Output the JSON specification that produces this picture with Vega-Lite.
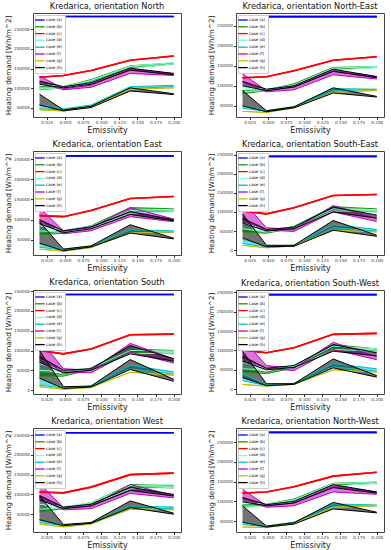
{
"$schema": "https://vega.github.io/schema/vega-lite/v6.json",
"padding": {"left": 3, "top": 1, "right": 2, "bottom": 0},
"datasets": {"d": [
{"o":"N","c":"a","k":0,"x":0.015,"lo":282000,"hi":282000},{"o":"N","c":"a","k":0,"x":0.048,"lo":282000,"hi":282000},{"o":"N","c":"a","k":0,"x":0.086,"lo":282000,"hi":282000},{"o":"N","c":"a","k":0,"x":0.14,"lo":282000,"hi":282000},{"o":"N","c":"a","k":0,"x":0.2,"lo":282000,"hi":282000},
{"o":"N","c":"b","k":0,"x":0.015,"lo":96000,"hi":104000},{"o":"N","c":"b","k":0,"x":0.048,"lo":101000,"hi":104000},{"o":"N","c":"b","k":0,"x":0.086,"lo":117000,"hi":122000},{"o":"N","c":"b","k":0,"x":0.14,"lo":152000,"hi":157000},{"o":"N","c":"b","k":0,"x":0.2,"lo":161500,"hi":164000},
{"o":"N","c":"c","k":0,"x":0.015,"lo":128000,"hi":128000},{"o":"N","c":"c","k":0,"x":0.048,"lo":132500,"hi":132500},{"o":"N","c":"c","k":0,"x":0.086,"lo":145000,"hi":145000},{"o":"N","c":"c","k":0,"x":0.14,"lo":171000,"hi":171000},{"o":"N","c":"c","k":0,"x":0.2,"lo":182000,"hi":182000},
{"o":"N","c":"d","k":0,"x":0.015,"lo":97500,"hi":110000},{"o":"N","c":"d","k":0,"x":0.048,"lo":101000,"hi":104000},{"o":"N","c":"d","k":0,"x":0.086,"lo":115000,"hi":120000},{"o":"N","c":"d","k":0,"x":0.14,"lo":150000,"hi":156000},{"o":"N","c":"d","k":0,"x":0.2,"lo":162000,"hi":165000},
{"o":"N","c":"e","k":0,"x":0.015,"lo":47500,"hi":57500},{"o":"N","c":"e","k":0,"x":0.048,"lo":45000,"hi":47500},{"o":"N","c":"e","k":0,"x":0.086,"lo":54000,"hi":57500},{"o":"N","c":"e","k":0,"x":0.14,"lo":99000,"hi":104000},{"o":"N","c":"e","k":0,"x":0.2,"lo":104000,"hi":107500},
{"o":"N","c":"f","k":0,"x":0.015,"lo":114000,"hi":131000},{"o":"N","c":"f","k":0,"x":0.048,"lo":96000,"hi":99000},{"o":"N","c":"f","k":0,"x":0.086,"lo":102500,"hi":107500},{"o":"N","c":"f","k":0,"x":0.14,"lo":137500,"hi":149000},{"o":"N","c":"f","k":0,"x":0.2,"lo":132500,"hi":137500},
{"o":"N","c":"g","k":0,"x":0.015,"lo":45000,"hi":45000},{"o":"N","c":"g","k":0,"x":0.048,"lo":42500,"hi":42500},{"o":"N","c":"g","k":0,"x":0.086,"lo":52000,"hi":52000},{"o":"N","c":"g","k":0,"x":0.14,"lo":97500,"hi":97500},{"o":"N","c":"g","k":0,"x":0.2,"lo":101000,"hi":101000},
{"o":"N","c":"h","k":0,"x":0.015,"lo":110000,"hi":118000},{"o":"N","c":"h","k":0,"x":0.048,"lo":101000,"hi":104000},{"o":"N","c":"h","k":0,"x":0.086,"lo":110000,"hi":114000},{"o":"N","c":"h","k":0,"x":0.14,"lo":146000,"hi":151000},{"o":"N","c":"h","k":0,"x":0.2,"lo":134000,"hi":137500},
{"o":"N","c":"h","k":1,"x":0.015,"lo":57500,"hi":85000},{"o":"N","c":"h","k":1,"x":0.048,"lo":42500,"hi":45000},{"o":"N","c":"h","k":1,"x":0.086,"lo":51000,"hi":54000},{"o":"N","c":"h","k":1,"x":0.14,"lo":93000,"hi":101000},{"o":"N","c":"h","k":1,"x":0.2,"lo":84000,"hi":86000},

{"o":"NE","c":"a","k":0,"x":0.015,"lo":273000,"hi":273000},{"o":"NE","c":"a","k":0,"x":0.048,"lo":273000,"hi":273000},{"o":"NE","c":"a","k":0,"x":0.086,"lo":273000,"hi":273000},{"o":"NE","c":"a","k":0,"x":0.14,"lo":273000,"hi":273000},{"o":"NE","c":"a","k":0,"x":0.2,"lo":273000,"hi":273000},
{"o":"NE","c":"b","k":0,"x":0.015,"lo":80000,"hi":88000},{"o":"NE","c":"b","k":0,"x":0.048,"lo":88000,"hi":90000},{"o":"NE","c":"b","k":0,"x":0.086,"lo":100000,"hi":105000},{"o":"NE","c":"b","k":0,"x":0.14,"lo":141500,"hi":146000},{"o":"NE","c":"b","k":0,"x":0.2,"lo":146000,"hi":148000},
{"o":"NE","c":"c","k":0,"x":0.015,"lo":120000,"hi":120000},{"o":"NE","c":"c","k":0,"x":0.048,"lo":122500,"hi":122500},{"o":"NE","c":"c","k":0,"x":0.086,"lo":137500,"hi":137500},{"o":"NE","c":"c","k":0,"x":0.14,"lo":164000,"hi":164000},{"o":"NE","c":"c","k":0,"x":0.2,"lo":172500,"hi":172500},
{"o":"NE","c":"d","k":0,"x":0.015,"lo":86000,"hi":97000},{"o":"NE","c":"d","k":0,"x":0.048,"lo":88000,"hi":91500},{"o":"NE","c":"d","k":0,"x":0.086,"lo":98000,"hi":102000},{"o":"NE","c":"d","k":0,"x":0.14,"lo":138500,"hi":144000},{"o":"NE","c":"d","k":0,"x":0.2,"lo":146000,"hi":148500},
{"o":"NE","c":"e","k":0,"x":0.015,"lo":44000,"hi":50000},{"o":"NE","c":"e","k":0,"x":0.048,"lo":36500,"hi":38000},{"o":"NE","c":"e","k":0,"x":0.086,"lo":46000,"hi":48000},{"o":"NE","c":"e","k":0,"x":0.14,"lo":88000,"hi":93000},{"o":"NE","c":"e","k":0,"x":0.2,"lo":90000,"hi":91500},
{"o":"NE","c":"f","k":0,"x":0.015,"lo":108500,"hi":130000},{"o":"NE","c":"f","k":0,"x":0.048,"lo":85000,"hi":88000},{"o":"NE","c":"f","k":0,"x":0.086,"lo":90000,"hi":97000},{"o":"NE","c":"f","k":0,"x":0.14,"lo":127500,"hi":138500},{"o":"NE","c":"f","k":0,"x":0.2,"lo":117000,"hi":123000},
{"o":"NE","c":"g","k":0,"x":0.015,"lo":36000,"hi":36000},{"o":"NE","c":"g","k":0,"x":0.048,"lo":33500,"hi":33500},{"o":"NE","c":"g","k":0,"x":0.086,"lo":45000,"hi":45000},{"o":"NE","c":"g","k":0,"x":0.14,"lo":83500,"hi":83500},{"o":"NE","c":"g","k":0,"x":0.2,"lo":88500,"hi":88500},
{"o":"NE","c":"h","k":0,"x":0.015,"lo":100000,"hi":111000},{"o":"NE","c":"h","k":0,"x":0.048,"lo":88000,"hi":91500},{"o":"NE","c":"h","k":0,"x":0.086,"lo":97000,"hi":100000},{"o":"NE","c":"h","k":0,"x":0.14,"lo":136000,"hi":141500},{"o":"NE","c":"h","k":0,"x":0.2,"lo":120000,"hi":123000},
{"o":"NE","c":"h","k":1,"x":0.015,"lo":50000,"hi":88000},{"o":"NE","c":"h","k":1,"x":0.048,"lo":35000,"hi":37500},{"o":"NE","c":"h","k":1,"x":0.086,"lo":45000,"hi":47500},{"o":"NE","c":"h","k":1,"x":0.14,"lo":82000,"hi":95000},{"o":"NE","c":"h","k":1,"x":0.2,"lo":72000,"hi":73500},

{"o":"E","c":"a","k":0,"x":0.015,"lo":258000,"hi":258000},{"o":"E","c":"a","k":0,"x":0.048,"lo":258000,"hi":258000},{"o":"E","c":"a","k":0,"x":0.086,"lo":258000,"hi":258000},{"o":"E","c":"a","k":0,"x":0.14,"lo":258000,"hi":258000},{"o":"E","c":"a","k":0,"x":0.2,"lo":258000,"hi":258000},
{"o":"E","c":"b","k":0,"x":0.015,"lo":62500,"hi":66500},{"o":"E","c":"b","k":0,"x":0.048,"lo":66500,"hi":72500},{"o":"E","c":"b","k":0,"x":0.086,"lo":82500,"hi":85000},{"o":"E","c":"b","k":0,"x":0.14,"lo":122500,"hi":130000},{"o":"E","c":"b","k":0,"x":0.2,"lo":120000,"hi":127000},
{"o":"E","c":"c","k":0,"x":0.015,"lo":110000,"hi":110000},{"o":"E","c":"c","k":0,"x":0.048,"lo":107500,"hi":107500},{"o":"E","c":"c","k":0,"x":0.086,"lo":122500,"hi":122500},{"o":"E","c":"c","k":0,"x":0.14,"lo":152500,"hi":152500},{"o":"E","c":"c","k":0,"x":0.2,"lo":157500,"hi":157500},
{"o":"E","c":"d","k":0,"x":0.015,"lo":72500,"hi":85000},{"o":"E","c":"d","k":0,"x":0.048,"lo":69000,"hi":74000},{"o":"E","c":"d","k":0,"x":0.086,"lo":79000,"hi":84000},{"o":"E","c":"d","k":0,"x":0.14,"lo":116000,"hi":122500},{"o":"E","c":"d","k":0,"x":0.2,"lo":120000,"hi":126000},
{"o":"E","c":"e","k":0,"x":0.015,"lo":31500,"hi":40000},{"o":"E","c":"e","k":0,"x":0.048,"lo":25000,"hi":27500},{"o":"E","c":"e","k":0,"x":0.086,"lo":33000,"hi":35000},{"o":"E","c":"e","k":0,"x":0.14,"lo":68000,"hi":75000},{"o":"E","c":"e","k":0,"x":0.2,"lo":69000,"hi":72500},
{"o":"E","c":"f","k":0,"x":0.015,"lo":97000,"hi":130000},{"o":"E","c":"f","k":0,"x":0.048,"lo":65000,"hi":72500},{"o":"E","c":"f","k":0,"x":0.086,"lo":72500,"hi":80000},{"o":"E","c":"f","k":0,"x":0.14,"lo":107500,"hi":130000},{"o":"E","c":"f","k":0,"x":0.2,"lo":95000,"hi":101500},
{"o":"E","c":"g","k":0,"x":0.015,"lo":27000,"hi":27000},{"o":"E","c":"g","k":0,"x":0.048,"lo":22000,"hi":22000},{"o":"E","c":"g","k":0,"x":0.086,"lo":31000,"hi":31000},{"o":"E","c":"g","k":0,"x":0.14,"lo":67000,"hi":67000},{"o":"E","c":"g","k":0,"x":0.2,"lo":70000,"hi":70000},
{"o":"E","c":"h","k":0,"x":0.015,"lo":90000,"hi":100000},{"o":"E","c":"h","k":0,"x":0.048,"lo":68000,"hi":72500},{"o":"E","c":"h","k":0,"x":0.086,"lo":77500,"hi":82500},{"o":"E","c":"h","k":0,"x":0.14,"lo":113000,"hi":120000},{"o":"E","c":"h","k":0,"x":0.2,"lo":97000,"hi":100000},
{"o":"E","c":"h","k":1,"x":0.015,"lo":42000,"hi":95000},{"o":"E","c":"h","k":1,"x":0.048,"lo":23000,"hi":27000},{"o":"E","c":"h","k":1,"x":0.086,"lo":32500,"hi":35000},{"o":"E","c":"h","k":1,"x":0.14,"lo":67000,"hi":87500},{"o":"E","c":"h","k":1,"x":0.2,"lo":52500,"hi":54000},

{"o":"SE","c":"a","k":0,"x":0.015,"lo":246000,"hi":246000},{"o":"SE","c":"a","k":0,"x":0.048,"lo":246000,"hi":246000},{"o":"SE","c":"a","k":0,"x":0.086,"lo":246000,"hi":246000},{"o":"SE","c":"a","k":0,"x":0.14,"lo":246000,"hi":246000},{"o":"SE","c":"a","k":0,"x":0.2,"lo":246000,"hi":246000},
{"o":"SE","c":"b","k":0,"x":0.015,"lo":47500,"hi":54000},{"o":"SE","c":"b","k":0,"x":0.048,"lo":44000,"hi":47500},{"o":"SE","c":"b","k":0,"x":0.086,"lo":58500,"hi":62500},{"o":"SE","c":"b","k":0,"x":0.14,"lo":106000,"hi":114000},{"o":"SE","c":"b","k":0,"x":0.2,"lo":100000,"hi":108000},
{"o":"SE","c":"c","k":0,"x":0.015,"lo":102500,"hi":102500},{"o":"SE","c":"c","k":0,"x":0.048,"lo":95000,"hi":95000},{"o":"SE","c":"c","k":0,"x":0.086,"lo":111000,"hi":111000},{"o":"SE","c":"c","k":0,"x":0.14,"lo":143000,"hi":143000},{"o":"SE","c":"c","k":0,"x":0.2,"lo":146000,"hi":146000},
{"o":"SE","c":"d","k":0,"x":0.015,"lo":56000,"hi":71000},{"o":"SE","c":"d","k":0,"x":0.048,"lo":47500,"hi":54000},{"o":"SE","c":"d","k":0,"x":0.086,"lo":56000,"hi":60000},{"o":"SE","c":"d","k":0,"x":0.14,"lo":102500,"hi":108000},{"o":"SE","c":"d","k":0,"x":0.2,"lo":102500,"hi":106000},
{"o":"SE","c":"e","k":0,"x":0.015,"lo":17000,"hi":29000},{"o":"SE","c":"e","k":0,"x":0.048,"lo":8000,"hi":10000},{"o":"SE","c":"e","k":0,"x":0.086,"lo":10000,"hi":12500},{"o":"SE","c":"e","k":0,"x":0.14,"lo":58500,"hi":66500},{"o":"SE","c":"e","k":0,"x":0.2,"lo":50000,"hi":54000},
{"o":"SE","c":"f","k":0,"x":0.015,"lo":79000,"hi":129000},{"o":"SE","c":"f","k":0,"x":0.048,"lo":52000,"hi":58500},{"o":"SE","c":"f","k":0,"x":0.086,"lo":49000,"hi":54000},{"o":"SE","c":"f","k":0,"x":0.14,"lo":100000,"hi":117000},{"o":"SE","c":"f","k":0,"x":0.2,"lo":75000,"hi":83500},
{"o":"SE","c":"g","k":0,"x":0.015,"lo":12500,"hi":12500},{"o":"SE","c":"g","k":0,"x":0.048,"lo":6000,"hi":6000},{"o":"SE","c":"g","k":0,"x":0.086,"lo":11000,"hi":11000},{"o":"SE","c":"g","k":0,"x":0.14,"lo":52000,"hi":52000},{"o":"SE","c":"g","k":0,"x":0.2,"lo":47500,"hi":47500},
{"o":"SE","c":"h","k":0,"x":0.015,"lo":71000,"hi":83500},{"o":"SE","c":"h","k":0,"x":0.048,"lo":50000,"hi":54000},{"o":"SE","c":"h","k":0,"x":0.086,"lo":56000,"hi":60000},{"o":"SE","c":"h","k":0,"x":0.14,"lo":100000,"hi":112500},{"o":"SE","c":"h","k":0,"x":0.2,"lo":83500,"hi":92000},
{"o":"SE","c":"h","k":1,"x":0.015,"lo":32000,"hi":95000},{"o":"SE","c":"h","k":1,"x":0.048,"lo":8500,"hi":12500},{"o":"SE","c":"h","k":1,"x":0.086,"lo":10000,"hi":12500},{"o":"SE","c":"h","k":1,"x":0.14,"lo":52000,"hi":77500},{"o":"SE","c":"h","k":1,"x":0.2,"lo":36000,"hi":39000},

{"o":"S","c":"a","k":0,"x":0.015,"lo":241500,"hi":241500},{"o":"S","c":"a","k":0,"x":0.048,"lo":241500,"hi":241500},{"o":"S","c":"a","k":0,"x":0.086,"lo":241500,"hi":241500},{"o":"S","c":"a","k":0,"x":0.14,"lo":241500,"hi":241500},{"o":"S","c":"a","k":0,"x":0.2,"lo":241500,"hi":241500},
{"o":"S","c":"b","k":0,"x":0.015,"lo":35000,"hi":45000},{"o":"S","c":"b","k":0,"x":0.048,"lo":35000,"hi":40000},{"o":"S","c":"b","k":0,"x":0.086,"lo":52000,"hi":56000},{"o":"S","c":"b","k":0,"x":0.14,"lo":96000,"hi":104000},{"o":"S","c":"b","k":0,"x":0.2,"lo":91500,"hi":100000},
{"o":"S","c":"c","k":0,"x":0.015,"lo":100000,"hi":100000},{"o":"S","c":"c","k":0,"x":0.048,"lo":91500,"hi":91500},{"o":"S","c":"c","k":0,"x":0.086,"lo":104000,"hi":104000},{"o":"S","c":"c","k":0,"x":0.14,"lo":140000,"hi":140000},{"o":"S","c":"c","k":0,"x":0.2,"lo":141500,"hi":141500},
{"o":"S","c":"d","k":0,"x":0.015,"lo":50000,"hi":66500},{"o":"S","c":"d","k":0,"x":0.048,"lo":46000,"hi":50000},{"o":"S","c":"d","k":0,"x":0.086,"lo":50000,"hi":54000},{"o":"S","c":"d","k":0,"x":0.14,"lo":91500,"hi":100000},{"o":"S","c":"d","k":0,"x":0.2,"lo":93500,"hi":98500},
{"o":"S","c":"e","k":0,"x":0.015,"lo":12500,"hi":29000},{"o":"S","c":"e","k":0,"x":0.048,"lo":5000,"hi":6500},{"o":"S","c":"e","k":0,"x":0.086,"lo":8500,"hi":10000},{"o":"S","c":"e","k":0,"x":0.14,"lo":54000,"hi":62500},{"o":"S","c":"e","k":0,"x":0.2,"lo":40000,"hi":46000},
{"o":"S","c":"f","k":0,"x":0.015,"lo":79000,"hi":129000},{"o":"S","c":"f","k":0,"x":0.048,"lo":46000,"hi":54000},{"o":"S","c":"f","k":0,"x":0.086,"lo":43500,"hi":50000},{"o":"S","c":"f","k":0,"x":0.14,"lo":96000,"hi":118000},{"o":"S","c":"f","k":0,"x":0.2,"lo":68000,"hi":79000},
{"o":"S","c":"g","k":0,"x":0.015,"lo":8500,"hi":8500},{"o":"S","c":"g","k":0,"x":0.048,"lo":2000,"hi":2000},{"o":"S","c":"g","k":0,"x":0.086,"lo":6500,"hi":6500},{"o":"S","c":"g","k":0,"x":0.14,"lo":45000,"hi":45000},{"o":"S","c":"g","k":0,"x":0.2,"lo":37500,"hi":37500},
{"o":"S","c":"h","k":0,"x":0.015,"lo":70000,"hi":85000},{"o":"S","c":"h","k":0,"x":0.048,"lo":43500,"hi":50000},{"o":"S","c":"h","k":0,"x":0.086,"lo":50000,"hi":54000},{"o":"S","c":"h","k":0,"x":0.14,"lo":91500,"hi":112500},{"o":"S","c":"h","k":0,"x":0.2,"lo":73000,"hi":79000},
{"o":"S","c":"h","k":1,"x":0.015,"lo":30000,"hi":100000},{"o":"S","c":"h","k":1,"x":0.048,"lo":4000,"hi":8500},{"o":"S","c":"h","k":1,"x":0.086,"lo":7500,"hi":10000},{"o":"S","c":"h","k":1,"x":0.14,"lo":52000,"hi":77000},{"o":"S","c":"h","k":1,"x":0.2,"lo":22000,"hi":27000},

{"o":"SW","c":"a","k":0,"x":0.015,"lo":244000,"hi":244000},{"o":"SW","c":"a","k":0,"x":0.048,"lo":244000,"hi":244000},{"o":"SW","c":"a","k":0,"x":0.086,"lo":244000,"hi":244000},{"o":"SW","c":"a","k":0,"x":0.14,"lo":244000,"hi":244000},{"o":"SW","c":"a","k":0,"x":0.2,"lo":244000,"hi":244000},
{"o":"SW","c":"b","k":0,"x":0.015,"lo":44000,"hi":52500},{"o":"SW","c":"b","k":0,"x":0.048,"lo":40000,"hi":44000},{"o":"SW","c":"b","k":0,"x":0.086,"lo":55000,"hi":61000},{"o":"SW","c":"b","k":0,"x":0.14,"lo":106000,"hi":115000},{"o":"SW","c":"b","k":0,"x":0.2,"lo":98000,"hi":104000},
{"o":"SW","c":"c","k":0,"x":0.015,"lo":101000,"hi":101000},{"o":"SW","c":"c","k":0,"x":0.048,"lo":94000,"hi":94000},{"o":"SW","c":"c","k":0,"x":0.086,"lo":107000,"hi":107000},{"o":"SW","c":"c","k":0,"x":0.14,"lo":141500,"hi":141500},{"o":"SW","c":"c","k":0,"x":0.2,"lo":144000,"hi":144000},
{"o":"SW","c":"d","k":0,"x":0.015,"lo":52500,"hi":69000},{"o":"SW","c":"d","k":0,"x":0.048,"lo":50000,"hi":54000},{"o":"SW","c":"d","k":0,"x":0.086,"lo":54000,"hi":59000},{"o":"SW","c":"d","k":0,"x":0.14,"lo":102500,"hi":111000},{"o":"SW","c":"d","k":0,"x":0.2,"lo":98000,"hi":104000},
{"o":"SW","c":"e","k":0,"x":0.015,"lo":22000,"hi":40000},{"o":"SW","c":"e","k":0,"x":0.048,"lo":9000,"hi":12000},{"o":"SW","c":"e","k":0,"x":0.086,"lo":12500,"hi":15000},{"o":"SW","c":"e","k":0,"x":0.14,"lo":58000,"hi":66000},{"o":"SW","c":"e","k":0,"x":0.2,"lo":46000,"hi":52500},
{"o":"SW","c":"f","k":0,"x":0.015,"lo":79000,"hi":129000},{"o":"SW","c":"f","k":0,"x":0.048,"lo":54000,"hi":61000},{"o":"SW","c":"f","k":0,"x":0.086,"lo":48000,"hi":54000},{"o":"SW","c":"f","k":0,"x":0.14,"lo":102500,"hi":121000},{"o":"SW","c":"f","k":0,"x":0.2,"lo":76000,"hi":84000},
{"o":"SW","c":"g","k":0,"x":0.015,"lo":12000,"hi":12000},{"o":"SW","c":"g","k":0,"x":0.048,"lo":8000,"hi":8000},{"o":"SW","c":"g","k":0,"x":0.086,"lo":12500,"hi":12500},{"o":"SW","c":"g","k":0,"x":0.14,"lo":50000,"hi":50000},{"o":"SW","c":"g","k":0,"x":0.2,"lo":44000,"hi":44000},
{"o":"SW","c":"h","k":0,"x":0.015,"lo":72000,"hi":85000},{"o":"SW","c":"h","k":0,"x":0.048,"lo":50000,"hi":54000},{"o":"SW","c":"h","k":0,"x":0.086,"lo":56000,"hi":61000},{"o":"SW","c":"h","k":0,"x":0.14,"lo":98000,"hi":115000},{"o":"SW","c":"h","k":0,"x":0.2,"lo":86000,"hi":94000},
{"o":"SW","c":"h","k":1,"x":0.015,"lo":30000,"hi":98000},{"o":"SW","c":"h","k":1,"x":0.048,"lo":9000,"hi":14000},{"o":"SW","c":"h","k":1,"x":0.086,"lo":12500,"hi":14000},{"o":"SW","c":"h","k":1,"x":0.14,"lo":55000,"hi":78000},{"o":"SW","c":"h","k":1,"x":0.2,"lo":31000,"hi":35000},

{"o":"W","c":"a","k":0,"x":0.015,"lo":256000,"hi":256000},{"o":"W","c":"a","k":0,"x":0.048,"lo":256000,"hi":256000},{"o":"W","c":"a","k":0,"x":0.086,"lo":256000,"hi":256000},{"o":"W","c":"a","k":0,"x":0.14,"lo":256000,"hi":256000},{"o":"W","c":"a","k":0,"x":0.2,"lo":256000,"hi":256000},
{"o":"W","c":"b","k":0,"x":0.015,"lo":56000,"hi":61000},{"o":"W","c":"b","k":0,"x":0.048,"lo":64000,"hi":66500},{"o":"W","c":"b","k":0,"x":0.086,"lo":75000,"hi":79000},{"o":"W","c":"b","k":0,"x":0.14,"lo":119000,"hi":125000},{"o":"W","c":"b","k":0,"x":0.2,"lo":116500,"hi":122500},
{"o":"W","c":"c","k":0,"x":0.015,"lo":106000,"hi":106000},{"o":"W","c":"c","k":0,"x":0.048,"lo":104000,"hi":104000},{"o":"W","c":"c","k":0,"x":0.086,"lo":118500,"hi":118500},{"o":"W","c":"c","k":0,"x":0.14,"lo":150000,"hi":150000},{"o":"W","c":"c","k":0,"x":0.2,"lo":154000,"hi":154000},
{"o":"W","c":"d","k":0,"x":0.015,"lo":62500,"hi":75000},{"o":"W","c":"d","k":0,"x":0.048,"lo":66000,"hi":69000},{"o":"W","c":"d","k":0,"x":0.086,"lo":74000,"hi":79000},{"o":"W","c":"d","k":0,"x":0.14,"lo":114000,"hi":122500},{"o":"W","c":"d","k":0,"x":0.2,"lo":118000,"hi":124000},
{"o":"W","c":"e","k":0,"x":0.015,"lo":29000,"hi":36000},{"o":"W","c":"e","k":0,"x":0.048,"lo":21000,"hi":22500},{"o":"W","c":"e","k":0,"x":0.086,"lo":26000,"hi":27500},{"o":"W","c":"e","k":0,"x":0.14,"lo":62500,"hi":71000},{"o":"W","c":"e","k":0,"x":0.2,"lo":65000,"hi":68000},
{"o":"W","c":"f","k":0,"x":0.015,"lo":91500,"hi":127500},{"o":"W","c":"f","k":0,"x":0.048,"lo":61000,"hi":66500},{"o":"W","c":"f","k":0,"x":0.086,"lo":64000,"hi":71000},{"o":"W","c":"f","k":0,"x":0.14,"lo":102500,"hi":125000},{"o":"W","c":"f","k":0,"x":0.2,"lo":91500,"hi":97500},
{"o":"W","c":"g","k":0,"x":0.015,"lo":25000,"hi":25000},{"o":"W","c":"g","k":0,"x":0.048,"lo":18000,"hi":18000},{"o":"W","c":"g","k":0,"x":0.086,"lo":25000,"hi":25000},{"o":"W","c":"g","k":0,"x":0.14,"lo":64000,"hi":64000},{"o":"W","c":"g","k":0,"x":0.2,"lo":61000,"hi":61000},
{"o":"W","c":"h","k":0,"x":0.015,"lo":86000,"hi":97500},{"o":"W","c":"h","k":0,"x":0.048,"lo":64000,"hi":68000},{"o":"W","c":"h","k":0,"x":0.086,"lo":71000,"hi":75000},{"o":"W","c":"h","k":0,"x":0.14,"lo":110000,"hi":118000},{"o":"W","c":"h","k":0,"x":0.2,"lo":96000,"hi":100000},
{"o":"W","c":"h","k":1,"x":0.015,"lo":36000,"hi":96000},{"o":"W","c":"h","k":1,"x":0.048,"lo":21000,"hi":24000},{"o":"W","c":"h","k":1,"x":0.086,"lo":27000,"hi":29000},{"o":"W","c":"h","k":1,"x":0.14,"lo":66500,"hi":83500},{"o":"W","c":"h","k":1,"x":0.2,"lo":50000,"hi":52500},

{"o":"NW","c":"a","k":0,"x":0.015,"lo":275000,"hi":275000},{"o":"NW","c":"a","k":0,"x":0.048,"lo":275000,"hi":275000},{"o":"NW","c":"a","k":0,"x":0.086,"lo":275000,"hi":275000},{"o":"NW","c":"a","k":0,"x":0.14,"lo":275000,"hi":275000},{"o":"NW","c":"a","k":0,"x":0.2,"lo":275000,"hi":275000},
{"o":"NW","c":"b","k":0,"x":0.015,"lo":85000,"hi":91000},{"o":"NW","c":"b","k":0,"x":0.048,"lo":91000,"hi":93000},{"o":"NW","c":"b","k":0,"x":0.086,"lo":101500,"hi":106000},{"o":"NW","c":"b","k":0,"x":0.14,"lo":141000,"hi":146000},{"o":"NW","c":"b","k":0,"x":0.2,"lo":146000,"hi":149000},
{"o":"NW","c":"c","k":0,"x":0.015,"lo":121000,"hi":121000},{"o":"NW","c":"c","k":0,"x":0.048,"lo":124000,"hi":124000},{"o":"NW","c":"c","k":0,"x":0.086,"lo":137000,"hi":137000},{"o":"NW","c":"c","k":0,"x":0.14,"lo":164000,"hi":164000},{"o":"NW","c":"c","k":0,"x":0.2,"lo":174000,"hi":174000},
{"o":"NW","c":"d","k":0,"x":0.015,"lo":85000,"hi":97500},{"o":"NW","c":"d","k":0,"x":0.048,"lo":89000,"hi":93000},{"o":"NW","c":"d","k":0,"x":0.086,"lo":99000,"hi":103500},{"o":"NW","c":"d","k":0,"x":0.14,"lo":139000,"hi":145000},{"o":"NW","c":"d","k":0,"x":0.2,"lo":146000,"hi":149000},
{"o":"NW","c":"e","k":0,"x":0.015,"lo":41000,"hi":47500},{"o":"NW","c":"e","k":0,"x":0.048,"lo":36000,"hi":37500},{"o":"NW","c":"e","k":0,"x":0.086,"lo":45000,"hi":47500},{"o":"NW","c":"e","k":0,"x":0.14,"lo":87500,"hi":93500},{"o":"NW","c":"e","k":0,"x":0.2,"lo":89000,"hi":91000},
{"o":"NW","c":"f","k":0,"x":0.015,"lo":106000,"hi":131000},{"o":"NW","c":"f","k":0,"x":0.048,"lo":85000,"hi":89000},{"o":"NW","c":"f","k":0,"x":0.086,"lo":89000,"hi":96000},{"o":"NW","c":"f","k":0,"x":0.14,"lo":124000,"hi":139000},{"o":"NW","c":"f","k":0,"x":0.2,"lo":118000,"hi":124000},
{"o":"NW","c":"g","k":0,"x":0.015,"lo":35000,"hi":35000},{"o":"NW","c":"g","k":0,"x":0.048,"lo":34000,"hi":34000},{"o":"NW","c":"g","k":0,"x":0.086,"lo":43500,"hi":43500},{"o":"NW","c":"g","k":0,"x":0.14,"lo":85000,"hi":85000},{"o":"NW","c":"g","k":0,"x":0.2,"lo":89000,"hi":89000},
{"o":"NW","c":"h","k":0,"x":0.015,"lo":99000,"hi":110000},{"o":"NW","c":"h","k":0,"x":0.048,"lo":89000,"hi":92000},{"o":"NW","c":"h","k":0,"x":0.086,"lo":96000,"hi":100000},{"o":"NW","c":"h","k":0,"x":0.14,"lo":135000,"hi":142500},{"o":"NW","c":"h","k":0,"x":0.2,"lo":121000,"hi":124000},
{"o":"NW","c":"h","k":1,"x":0.015,"lo":47500,"hi":89000},{"o":"NW","c":"h","k":1,"x":0.048,"lo":35000,"hi":37500},{"o":"NW","c":"h","k":1,"x":0.086,"lo":42500,"hi":46000},{"o":"NW","c":"h","k":1,"x":0.14,"lo":81000,"hi":97500},{"o":"NW","c":"h","k":1,"x":0.2,"lo":71000,"hi":72500}
]},
"data": {"name": "d"},
"columns": 2,
"spacing": {"row": 4, "column": 24},
"resolve": {"scale": {"color": "independent"}, "legend": {"color": "independent"}},
"concat": [
{"title": "Kredarica, orientation North", "width": 148, "height": 104, "transform": [{"filter": "datum.o=='N'"}],
 "encoding": {"x": {"field": "x", "type": "quantitative", "scale": {"domain": [0.006, 0.21]}, "axis": {"values": [0.025,0.05,0.075,0.1,0.125,0.15,0.175,0.2], "format": ".3f", "title": "Emissivity"}},
  "color": {"field": "c", "type": "nominal", "legend": {"title": null, "labelExpr": "'case (' + datum.label + ')'"}}},
 "layer": [
  {"mark": {"type": "area", "opacity": 0.55}, "encoding": {"y": {"field": "lo", "type": "quantitative", "scale": {"domain": [27000, 291000]}, "axis": {"title": "Heating demand [Wh/m^2]", "format": "d"}}, "y2": {"field": "hi"}, "detail": {"field": "k"}}},
  {"transform": [{"fold": ["lo", "hi"], "as": ["key", "v"]}], "mark": {"type": "line"}, "encoding": {"y": {"field": "v", "type": "quantitative", "scale": {"domain": [27000, 291000]}, "axis": {"title": "Heating demand [Wh/m^2]", "format": "d"}}, "detail": [{"field": "k"}, {"field": "key"}], "strokeWidth": {"condition": {"test": "datum.c=='a'||datum.c=='c'", "value": 1.6}, "value": 1}}}
 ]},
{"title": "Kredarica, orientation North-East", "width": 148, "height": 104, "transform": [{"filter": "datum.o=='NE'"}],
 "encoding": {"x": {"field": "x", "type": "quantitative", "scale": {"domain": [0.006, 0.21]}, "axis": {"values": [0.025,0.05,0.075,0.1,0.125,0.15,0.175,0.2], "format": ".3f", "title": "Emissivity"}},
  "color": {"field": "c", "type": "nominal", "legend": {"title": null, "labelExpr": "'case (' + datum.label + ')'"}}},
 "layer": [
  {"mark": {"type": "area", "opacity": 0.55}, "encoding": {"y": {"field": "lo", "type": "quantitative", "scale": {"domain": [22000, 282000]}, "axis": {"title": "Heating demand [Wh/m^2]", "format": "d"}}, "y2": {"field": "hi"}, "detail": {"field": "k"}}},
  {"transform": [{"fold": ["lo", "hi"], "as": ["key", "v"]}], "mark": {"type": "line"}, "encoding": {"y": {"field": "v", "type": "quantitative", "scale": {"domain": [22000, 282000]}, "axis": {"title": "Heating demand [Wh/m^2]", "format": "d"}}, "detail": [{"field": "k"}, {"field": "key"}], "strokeWidth": {"condition": {"test": "datum.c=='a'||datum.c=='c'", "value": 1.6}, "value": 1}}}
 ]},
{"title": "Kredarica, orientation East", "width": 148, "height": 104, "transform": [{"filter": "datum.o=='E'"}],
 "encoding": {"x": {"field": "x", "type": "quantitative", "scale": {"domain": [0.006, 0.21]}, "axis": {"values": [0.025,0.05,0.075,0.1,0.125,0.15,0.175,0.2], "format": ".3f", "title": "Emissivity"}},
  "color": {"field": "c", "type": "nominal", "legend": {"title": null, "labelExpr": "'case (' + datum.label + ')'"}}},
 "layer": [
  {"mark": {"type": "area", "opacity": 0.55}, "encoding": {"y": {"field": "lo", "type": "quantitative", "scale": {"domain": [12600, 270000]}, "axis": {"title": "Heating demand [Wh/m^2]", "format": "d"}}, "y2": {"field": "hi"}, "detail": {"field": "k"}}},
  {"transform": [{"fold": ["lo", "hi"], "as": ["key", "v"]}], "mark": {"type": "line"}, "encoding": {"y": {"field": "v", "type": "quantitative", "scale": {"domain": [12600, 270000]}, "axis": {"title": "Heating demand [Wh/m^2]", "format": "d"}}, "detail": [{"field": "k"}, {"field": "key"}], "strokeWidth": {"condition": {"test": "datum.c=='a'||datum.c=='c'", "value": 1.6}, "value": 1}}}
 ]},
{"title": "Kredarica, orientation South-East", "width": 148, "height": 104, "transform": [{"filter": "datum.o=='SE'"}],
 "encoding": {"x": {"field": "x", "type": "quantitative", "scale": {"domain": [0.006, 0.21]}, "axis": {"values": [0.025,0.05,0.075,0.1,0.125,0.15,0.175,0.2], "format": ".3f", "title": "Emissivity"}},
  "color": {"field": "c", "type": "nominal", "legend": {"title": null, "labelExpr": "'case (' + datum.label + ')'"}}},
 "layer": [
  {"mark": {"type": "area", "opacity": 0.55}, "encoding": {"y": {"field": "lo", "type": "quantitative", "scale": {"domain": [-13000, 260000]}, "axis": {"title": "Heating demand [Wh/m^2]", "format": "d"}}, "y2": {"field": "hi"}, "detail": {"field": "k"}}},
  {"transform": [{"fold": ["lo", "hi"], "as": ["key", "v"]}], "mark": {"type": "line"}, "encoding": {"y": {"field": "v", "type": "quantitative", "scale": {"domain": [-13000, 260000]}, "axis": {"title": "Heating demand [Wh/m^2]", "format": "d"}}, "detail": [{"field": "k"}, {"field": "key"}], "strokeWidth": {"condition": {"test": "datum.c=='a'||datum.c=='c'", "value": 1.6}, "value": 1}}}
 ]},
{"title": "Kredarica, orientation South", "width": 148, "height": 104, "transform": [{"filter": "datum.o=='S'"}],
 "encoding": {"x": {"field": "x", "type": "quantitative", "scale": {"domain": [0.006, 0.21]}, "axis": {"values": [0.025,0.05,0.075,0.1,0.125,0.15,0.175,0.2], "format": ".3f", "title": "Emissivity"}},
  "color": {"field": "c", "type": "nominal", "legend": {"title": null, "labelExpr": "'case (' + datum.label + ')'"}}},
 "layer": [
  {"mark": {"type": "area", "opacity": 0.55}, "encoding": {"y": {"field": "lo", "type": "quantitative", "scale": {"domain": [-10000, 253000]}, "axis": {"title": "Heating demand [Wh/m^2]", "format": "d"}}, "y2": {"field": "hi"}, "detail": {"field": "k"}}},
  {"transform": [{"fold": ["lo", "hi"], "as": ["key", "v"]}], "mark": {"type": "line"}, "encoding": {"y": {"field": "v", "type": "quantitative", "scale": {"domain": [-10000, 253000]}, "axis": {"title": "Heating demand [Wh/m^2]", "format": "d"}}, "detail": [{"field": "k"}, {"field": "key"}], "strokeWidth": {"condition": {"test": "datum.c=='a'||datum.c=='c'", "value": 1.6}, "value": 1}}}
 ]},
{"title": "Kredarica, orientation South-West", "width": 148, "height": 104, "transform": [{"filter": "datum.o=='SW'"}],
 "encoding": {"x": {"field": "x", "type": "quantitative", "scale": {"domain": [0.006, 0.21]}, "axis": {"values": [0.025,0.05,0.075,0.1,0.125,0.15,0.175,0.2], "format": ".3f", "title": "Emissivity"}},
  "color": {"field": "c", "type": "nominal", "legend": {"title": null, "labelExpr": "'case (' + datum.label + ')'"}}},
 "layer": [
  {"mark": {"type": "area", "opacity": 0.55}, "encoding": {"y": {"field": "lo", "type": "quantitative", "scale": {"domain": [-12500, 256000]}, "axis": {"title": "Heating demand [Wh/m^2]", "format": "d"}}, "y2": {"field": "hi"}, "detail": {"field": "k"}}},
  {"transform": [{"fold": ["lo", "hi"], "as": ["key", "v"]}], "mark": {"type": "line"}, "encoding": {"y": {"field": "v", "type": "quantitative", "scale": {"domain": [-12500, 256000]}, "axis": {"title": "Heating demand [Wh/m^2]", "format": "d"}}, "detail": [{"field": "k"}, {"field": "key"}], "strokeWidth": {"condition": {"test": "datum.c=='a'||datum.c=='c'", "value": 1.6}, "value": 1}}}
 ]},
{"title": "Kredarica, orientation West", "width": 148, "height": 104, "transform": [{"filter": "datum.o=='W'"}],
 "encoding": {"x": {"field": "x", "type": "quantitative", "scale": {"domain": [0.006, 0.21]}, "axis": {"values": [0.025,0.05,0.075,0.1,0.125,0.15,0.175,0.2], "format": ".3f", "title": "Emissivity"}},
  "color": {"field": "c", "type": "nominal", "legend": {"title": null, "labelExpr": "'case (' + datum.label + ')'"}}},
 "layer": [
  {"mark": {"type": "area", "opacity": 0.55}, "encoding": {"y": {"field": "lo", "type": "quantitative", "scale": {"domain": [5000, 268000]}, "axis": {"title": "Heating demand [Wh/m^2]", "format": "d"}}, "y2": {"field": "hi"}, "detail": {"field": "k"}}},
  {"transform": [{"fold": ["lo", "hi"], "as": ["key", "v"]}], "mark": {"type": "line"}, "encoding": {"y": {"field": "v", "type": "quantitative", "scale": {"domain": [5000, 268000]}, "axis": {"title": "Heating demand [Wh/m^2]", "format": "d"}}, "detail": [{"field": "k"}, {"field": "key"}], "strokeWidth": {"condition": {"test": "datum.c=='a'||datum.c=='c'", "value": 1.6}, "value": 1}}}
 ]},
{"title": "Kredarica, orientation North-West", "width": 148, "height": 104, "transform": [{"filter": "datum.o=='NW'"}],
 "encoding": {"x": {"field": "x", "type": "quantitative", "scale": {"domain": [0.006, 0.21]}, "axis": {"values": [0.025,0.05,0.075,0.1,0.125,0.15,0.175,0.2], "format": ".3f", "title": "Emissivity"}},
  "color": {"field": "c", "type": "nominal", "legend": {"title": null, "labelExpr": "'case (' + datum.label + ')'"}}},
 "layer": [
  {"mark": {"type": "area", "opacity": 0.55}, "encoding": {"y": {"field": "lo", "type": "quantitative", "scale": {"domain": [22500, 286000]}, "axis": {"title": "Heating demand [Wh/m^2]", "format": "d"}}, "y2": {"field": "hi"}, "detail": {"field": "k"}}},
  {"transform": [{"fold": ["lo", "hi"], "as": ["key", "v"]}], "mark": {"type": "line"}, "encoding": {"y": {"field": "v", "type": "quantitative", "scale": {"domain": [22500, 286000]}, "axis": {"title": "Heating demand [Wh/m^2]", "format": "d"}}, "detail": [{"field": "k"}, {"field": "key"}], "strokeWidth": {"condition": {"test": "datum.c=='a'||datum.c=='c'", "value": 1.6}, "value": 1}}}
 ]}
],
"config": {
 "font": "DejaVu Sans",
 "view": {"stroke": "#444", "strokeWidth": 1},
 "range": {"category": ["#0000ff", "#119911", "#ff0000", "#7fffd4", "#00bfbf", "#bf00bf", "#bfbf00", "#000000"]},
 "title": {"fontSize": 8.2, "font": "DejaVu Sans", "fontWeight": "normal", "offset": 2, "color": "#111"},
 "axis": {"grid": false, "domain": false, "tickColor": "#333", "tickSize": 2.5, "labelFontSize": 4.2, "labelColor": "#333", "labelFont": "DejaVu Sans", "titleFont": "DejaVu Sans", "titleFontSize": 8, "titleFontWeight": "normal", "labelPadding": 1, "titlePadding": 1.5, "titleColor": "#222"},
 "axisY": {"tickCount": 5, "titleFontSize": 7.2},
 "legend": {"orient": "top-left", "offset": 2, "labelFontSize": 4, "labelFont": "DejaVu Sans", "symbolType": "M-2,0L2,0", "symbolSize": 22, "symbolStrokeWidth": 1.3, "symbolOpacity": 1, "rowPadding": 0.8, "padding": 2, "strokeColor": "#ccc", "fillColor": "white", "labelOffset": 3}
}
}
